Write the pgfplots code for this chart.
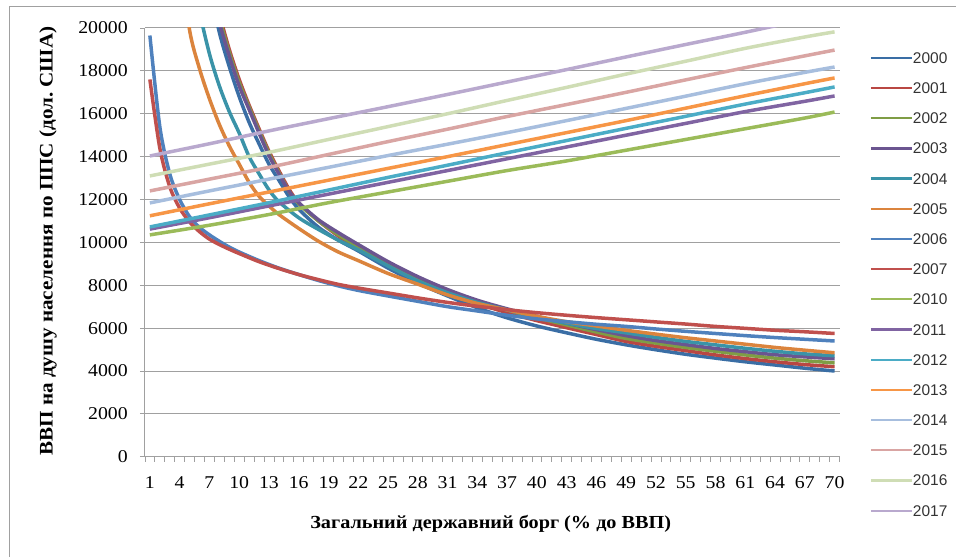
\documentclass[border=0pt]{standalone}
\usepackage{fontspec}
\setmainfont{Liberation Serif}[FakeStretch=1.1]
\setsansfont{Liberation Sans}
\usepackage{pgfplots}
\pgfplotsset{compat=1.18}
\frenchspacing

\definecolor{c2000}{HTML}{3A6EA5}
\definecolor{c2001}{HTML}{B94743}
\definecolor{c2002}{HTML}{7F9D45}
\definecolor{c2003}{HTML}{6B5590}
\definecolor{c2004}{HTML}{3A93A8}
\definecolor{c2005}{HTML}{DB843D}
\definecolor{c2006}{HTML}{4F81BD}
\definecolor{c2007}{HTML}{C0504D}
\definecolor{c2010}{HTML}{9BBB59}
\definecolor{c2011}{HTML}{8064A2}
\definecolor{c2012}{HTML}{4BACC6}
\definecolor{c2013}{HTML}{F79646}
\definecolor{c2014}{HTML}{A7BEDE}
\definecolor{c2015}{HTML}{D9A5A3}
\definecolor{c2016}{HTML}{CFDDB5}
\definecolor{c2017}{HTML}{B9A9CE}
\definecolor{gridgray}{HTML}{A0A0A0}

\begin{document}
\begin{tikzpicture}
\begin{axis}[
  scale only axis,
  width=695pt, height=429pt,
  xmin=0.5, xmax=70.5,
  ymin=0, ymax=20000,
  axis x line*=bottom, axis y line*=left,
  axis line style={draw=gridgray, line width=1pt},
  ytick={0,2000,...,20000},
  ymajorgrids,
  major grid style={draw=gridgray, line width=1pt},
  xtick={0.5,1.5,...,70.5},
  xticklabels={},
  extra x ticks={1,4,...,70},
  extra x tick style={major tick length=0pt, grid=none},
  tick align=outside,
  major tick length=5pt,
  tick style={draw=gridgray, line width=0.8pt},
  /pgf/number format/assume math mode=true,
  scaled y ticks=false,
  yticklabel style={/pgf/number format/.cd, 1000 sep={}, /tikz/.cd,
    font=\fontsize{18}{20}\selectfont, anchor=east, inner sep=0pt, xshift=-12pt},
  xticklabel style={font=\fontsize{18}{20}\selectfont, anchor=base, inner sep=0pt, yshift=-32pt},
  xlabel={\bfseries Загальний державний борг (\% до ВВП)},
  ylabel={\bfseries ВВП на душу населення по ППС (дол. США)},
  xlabel style={font=\fontsize{18.4}{20}\selectfont, at={(axis description cs:0.4978,-0.156)}, anchor=center},
  ylabel style={font=\fontsize{19.2}{21}\selectfont, at={(axis description cs:-0.1396,0.503)}, anchor=center, rotate=0},
  legend style={at={(axis description cs:1.0432,0.966)}, anchor=north west,
    draw=none, fill=none, inner sep=0pt,
    font=\fontsize{15.5}{18}\selectfont\sffamily, text=black!80,
    nodes={inner sep=0pt, text height=20.6pt, text depth=9.6pt},
    row sep=0pt,
    /tikz/every even column/.append style={column sep=3pt}},
  legend cell align=left,
  legend image code/.code={\path[draw=none, fill=none] (0pt,0pt) -- (0pt,9pt); \draw[#1, line width=2.2pt] (0pt,0pt) -- (41pt,0pt);},
  every axis plot/.append style={line width=3.5pt, smooth, tension=0.5},
]
% 2000
\addplot[c2000] coordinates {(7,22000) (8,19800) (9,18200) (10,16800) (11,15600) (12,14600) (13,13650) (14,12900) (15,12150) (16,11550) (18,10700) (20,10100) (22,9600) (25,8800) (28,8100) (31,7500) (34,6950) (37,6480) (40,6100) (43,5780) (46,5480) (49,5220) (52,4990) (55,4780) (58,4600) (61,4430) (64,4280) (67,4130) (70,4000)};
\addlegendentry{2000}
% 2001
\addplot[c2001] coordinates {(7,23000) (8,20700) (9,19000) (10,17600) (11,16400) (12,15300) (13,14250) (14,13350) (15,12500) (16,11850) (18,11000) (20,10300) (22,9700) (25,8950) (28,8250) (31,7650) (34,7150) (37,6720) (40,6350) (43,6020) (46,5700) (49,5380) (52,5150) (55,4950) (58,4750) (61,4580) (64,4430) (67,4300) (70,4200)};
\addlegendentry{2001}
% 2002
\addplot[c2002] coordinates {(7,22800) (8,20500) (9,18850) (10,17450) (11,16300) (12,15200) (13,14150) (14,13250) (15,12400) (16,11800) (18,11000) (20,10350) (22,9800) (25,9000) (28,8300) (31,7720) (34,7250) (37,6850) (40,6480) (43,6150) (46,5820) (49,5520) (52,5300) (55,5100) (58,4920) (61,4750) (64,4600) (67,4480) (70,4380)};
\addlegendentry{2002}
% 2003
\addplot[c2003] coordinates {(7,22500) (8,20300) (9,18700) (10,17300) (11,16200) (12,15100) (13,14050) (14,13200) (15,12400) (16,11850) (18,11050) (20,10450) (22,9900) (25,9100) (28,8400) (31,7800) (34,7300) (37,6900) (40,6550) (43,6230) (46,5930) (49,5650) (52,5420) (55,5230) (58,5050) (61,4900) (64,4760) (67,4660) (70,4570)};
\addlegendentry{2003}
% 2004
\addplot[c2004] coordinates {(5,23500) (6,20800) (7,18800) (8,17300) (9,16100) (10,15100) (11,14000) (12,13200) (13,12450) (14,11900) (16,11150) (18,10600) (20,10100) (22,9650) (25,8900) (28,8200) (31,7650) (34,7200) (37,6850) (40,6500) (43,6230) (46,5980) (49,5780) (52,5570) (55,5380) (58,5220) (61,5060) (64,4920) (67,4800) (70,4710)};
\addlegendentry{2004}
% 2005
\addplot[c2005] coordinates {(4,23500) (5,19900) (6,18100) (7,16700) (8,15500) (9,14500) (10,13650) (11,12800) (12,12150) (13,11700) (14,11300) (16,10650) (18,10050) (20,9550) (22,9150) (25,8550) (28,8050) (31,7550) (34,7150) (37,6850) (40,6550) (43,6300) (46,6100) (49,5900) (52,5720) (55,5550) (58,5400) (61,5250) (64,5100) (67,4970) (70,4850)};
\addlegendentry{2005}
% 2006
\addplot[c2006] coordinates {(1,19650) (2,15400) (3,13200) (4,12000) (5,11200) (6,10700) (7,10350) (8,10050) (9,9780) (10,9550) (12,9150) (14,8800) (16,8500) (18,8220) (20,7970) (22,7760) (25,7500) (28,7250) (31,7000) (34,6800) (37,6600) (40,6430) (43,6300) (46,6180) (49,6080) (52,5960) (55,5850) (58,5750) (61,5650) (64,5560) (67,5480) (70,5400)};
\addlegendentry{2006}
% 2007
\addplot[c2007] coordinates {(1,17600) (2,14400) (3,12600) (4,11600) (5,10950) (6,10500) (7,10150) (8,9900) (9,9680) (10,9480) (12,9100) (14,8780) (16,8500) (18,8260) (20,8040) (22,7870) (25,7640) (28,7410) (31,7200) (34,7020) (37,6860) (40,6720) (43,6600) (46,6490) (49,6390) (52,6290) (55,6190) (58,6080) (61,5990) (64,5900) (67,5830) (70,5750)};
\addlegendentry{2007}
% 2010
\addplot[c2010] coordinates {(1,10350) (7,10800) (13,11300) (19,11850) (25,12350) (31,12850) (37,13350) (43,13800) (49,14300) (55,14800) (61,15300) (67,15800) (70,16080)};
\addlegendentry{2010}
% 2011
\addplot[c2011] coordinates {(1,10620) (7,11150) (13,11700) (19,12250) (25,12800) (31,13350) (37,13900) (43,14450) (49,15000) (55,15550) (61,16100) (67,16580) (70,16830)};
\addlegendentry{2011}
% 2012
\addplot[c2012] coordinates {(1,10720) (7,11280) (13,11850) (19,12440) (25,13030) (31,13600) (37,14180) (43,14750) (49,15320) (55,15880) (61,16450) (67,16980) (70,17250)};
\addlegendentry{2012}
% 2013
\addplot[c2013] coordinates {(1,11240) (7,11800) (13,12350) (19,12900) (25,13450) (31,14000) (37,14560) (43,15120) (49,15680) (55,16260) (61,16840) (67,17400) (70,17670)};
\addlegendentry{2013}
% 2014
\addplot[c2014] coordinates {(1,11840) (7,12400) (13,12950) (19,13500) (25,14050) (31,14580) (37,15120) (43,15680) (49,16250) (55,16820) (61,17400) (67,17930) (70,18180)};
\addlegendentry{2014}
% 2015
\addplot[c2015] coordinates {(1,12400) (7,12950) (13,13500) (19,14100) (25,14700) (31,15280) (37,15870) (43,16430) (49,17000) (55,17580) (61,18150) (67,18700) (70,18970)};
\addlegendentry{2015}
% 2016
\addplot[c2016] coordinates {(1,13100) (7,13650) (13,14200) (19,14800) (25,15400) (31,16000) (37,16620) (43,17230) (49,17850) (55,18450) (61,19050) (67,19580) (70,19820)};
\addlegendentry{2016}
% 2017
\addplot[c2017] coordinates {(1,14030) (7,14600) (13,15200) (19,15770) (25,16330) (31,16900) (37,17480) (43,18060) (49,18650) (55,19230) (61,19800) (67,20400) (70,20700)};
\addlegendentry{2017}
\end{axis}
\draw[gridgray, line width=1pt] (-135pt,-100pt) -- (-135pt,450pt) -- (811pt,450pt);
\useasboundingbox (-145pt,-100pt) rectangle (811pt,457pt);
\end{tikzpicture}
\end{document}
